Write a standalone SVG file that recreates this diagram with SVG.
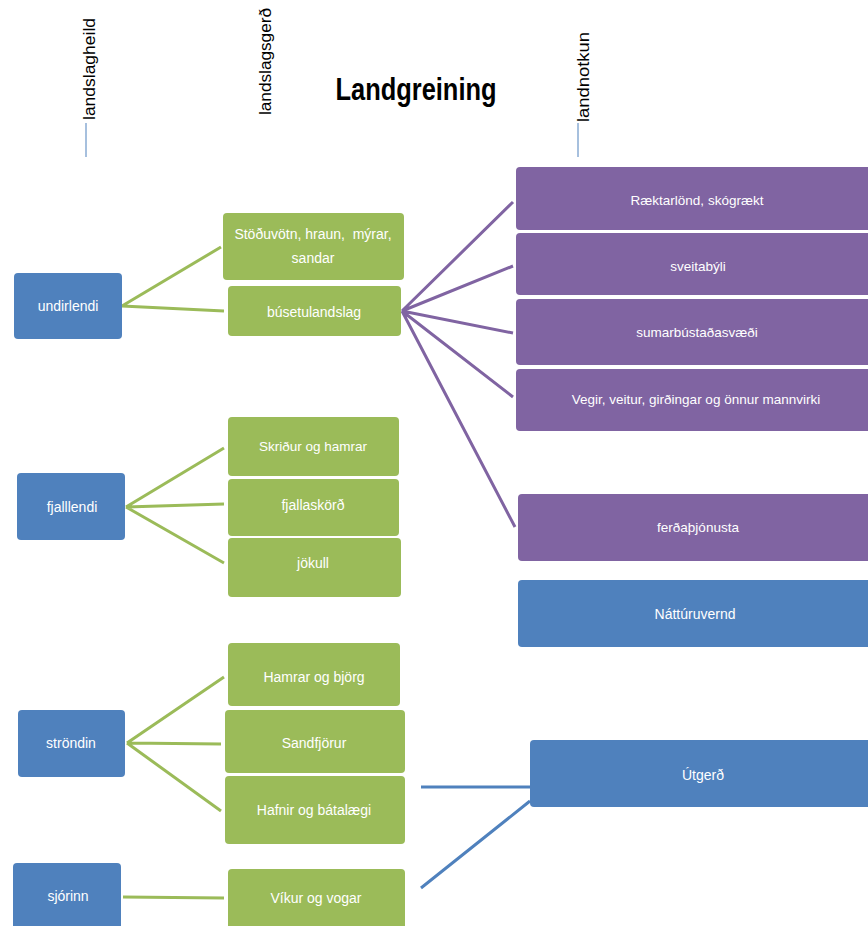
<svg xmlns="http://www.w3.org/2000/svg" width="868" height="926" viewBox="0 0 868 926">
<style>
.b{fill:#4f81bd}
.g{fill:#9bbb59}
.p{fill:#8064a2}
text{font-family:"Liberation Sans",Arial,sans-serif;fill:#fff;text-anchor:middle}
.t{font-size:14px}
.s{font-size:13.5px}
.h{font-size:16px;fill:#000;text-anchor:start}
.title{font-size:31px;font-weight:bold;fill:#000}
.cg{stroke:#9bbb59;stroke-width:3;fill:none}
.cp{stroke:#8064a2;stroke-width:3;fill:none}
.cb{stroke:#4f81bd;stroke-width:3;fill:none}
.hl{stroke:#4f81bd;stroke-width:1}
</style>
<rect width="868" height="926" fill="#fff"/>
<g id="headers">
<text class="h" transform="translate(95,120) rotate(-90)" textLength="102" lengthAdjust="spacingAndGlyphs">landslagheild</text>
<line class="hl" x1="86" y1="123" x2="86" y2="157"/>
<text class="h" transform="translate(271,115) rotate(-90)" textLength="107" lengthAdjust="spacingAndGlyphs">landslagsgerð</text>
<text class="h" transform="translate(589,122) rotate(-90)" textLength="90" lengthAdjust="spacingAndGlyphs">landnotkun</text>
<line class="hl" x1="578" y1="123" x2="578" y2="157"/>
<text class="title" x="416" y="100" textLength="161" lengthAdjust="spacingAndGlyphs">Landgreining</text>
</g>
<g id="connectors">
<path class="cg" d="M122,306 L221,247 M122,306 L224,311"/>
<path class="cg" d="M126,507 L224,448 M126,507 L224,504 M126,507 L224,563"/>
<path class="cg" d="M127,743 L224,677 M127,743 L221,744 M127,743 L221,811"/>
<path class="cg" d="M123,897 L224,898"/>
<path class="cp" d="M402,311 L513,202 M402,311 L513,266 M402,311 L513,333 M402,311 L513,397 M402,311 L515,527"/>
<path class="cb" d="M421,787 L530,787 M421,888 L530,801"/>
</g>
<g id="undirlendi"><rect class="b" x="14" y="273" width="108" height="66" rx="4"/><text class="t" x="68" y="311">undirlendi</text></g>
<g id="fjalllendi"><rect class="b" x="17" y="473" width="108" height="67" rx="4"/><text class="t" x="72" y="512">fjalllendi</text></g>
<g id="strondin"><rect class="b" x="18" y="710" width="107" height="67" rx="4"/><text class="t" x="71" y="748">ströndin</text></g>
<g id="sjorinn"><rect class="b" x="13" y="863" width="108" height="70" rx="4"/><text class="t" x="68" y="901">sjórinn</text></g>
<g id="stoduvotn"><rect class="g" x="223" y="213" width="181" height="67" rx="4"/><text class="t" x="313" y="239" xml:space="preserve">Stöðuvötn, hraun,  mýrar,</text><text class="t" x="313" y="263">sandar</text></g>
<g id="busetulandslag"><rect class="g" x="228" y="286" width="173" height="50" rx="4"/><text class="t" x="314" y="317">búsetulandslag</text></g>
<g id="skridur"><rect class="g" x="228" y="417" width="171" height="59" rx="4"/><text class="s" x="313" y="451">Skriður og hamrar</text></g>
<g id="fjallaskord"><rect class="g" x="228" y="479" width="171" height="57" rx="4"/><text class="t" x="313" y="510">fjallaskörð</text></g>
<g id="jokull"><rect class="g" x="228" y="538" width="173" height="59" rx="4"/><text class="t" x="313" y="568">jökull</text></g>
<g id="hamrar"><rect class="g" x="228" y="643" width="172" height="63" rx="4"/><text class="t" x="314" y="682">Hamrar og björg</text></g>
<g id="sandfjorur"><rect class="g" x="225" y="710" width="180" height="63" rx="4"/><text class="t" x="314" y="748">Sandfjörur</text></g>
<g id="hafnir"><rect class="g" x="225" y="776" width="180" height="68" rx="4"/><text class="t" x="314" y="815">Hafnir og bátalægi</text></g>
<g id="vikur"><rect class="g" x="228" y="869" width="177" height="64" rx="4"/><text class="t" x="316" y="903">Víkur og vogar</text></g>
<g id="raektarlond"><rect class="p" x="516" y="167" width="360" height="63" rx="4"/><text class="s" x="697" y="205">Ræktarlönd, skógrækt</text></g>
<g id="sveitabyli"><rect class="p" x="516" y="233" width="360" height="62" rx="4"/><text class="s" x="698" y="271">sveitabýli</text></g>
<g id="sumarbustada"><rect class="p" x="516" y="299" width="360" height="66" rx="4"/><text class="s" x="697" y="337">sumarbústaðasvæði</text></g>
<g id="vegir"><rect class="p" x="516" y="369" width="360" height="62" rx="4"/><text class="s" x="696" y="404">Vegir, veitur, girðingar og önnur mannvirki</text></g>
<g id="ferdathjonusta"><rect class="p" x="518" y="494" width="360" height="67" rx="4"/><text class="s" x="698" y="532">ferðaþjónusta</text></g>
<g id="natturuvernd"><rect class="b" x="518" y="580" width="360" height="67" rx="4"/><text class="t" x="695" y="619">Náttúruvernd</text></g>
<g id="utgerd"><rect class="b" x="530" y="740" width="350" height="67" rx="4"/><text class="t" x="703" y="780">Útgerð</text></g>
</svg>
